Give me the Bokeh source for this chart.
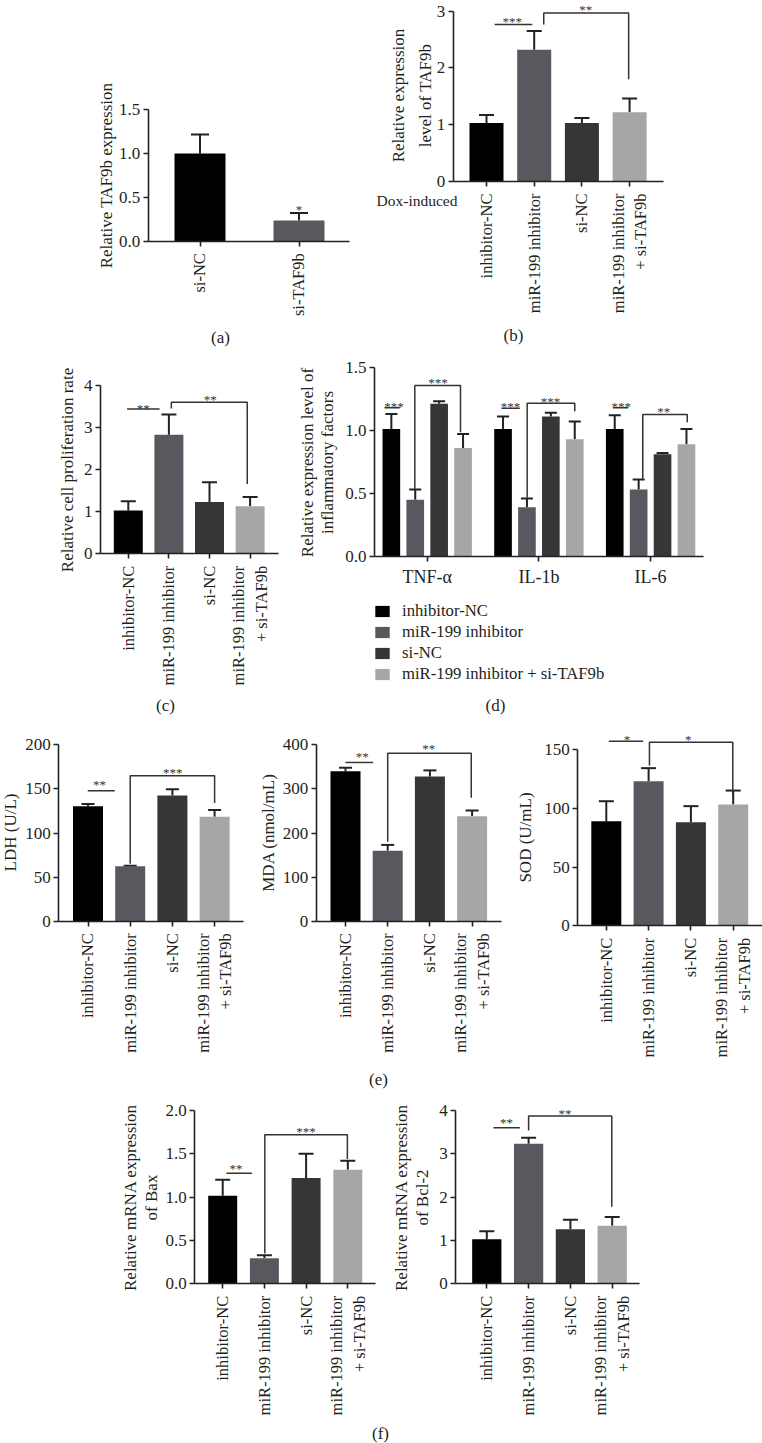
import math
from bokeh.plotting import figure
from bokeh.models import (Range1d, FixedTicker, Whisker, TeeHead, ColumnDataSource,
                          Label, Legend, LegendItem)
from bokeh.layouts import row, column
from bokeh.embed import file_html
from bokeh.resources import INLINE
from bokeh.core.properties import value

FONT = "Liberation Serif"
TXT = "#231f20"
LINE = "#222222"
COLORS = ["#000000", "#58585e", "#363636", "#a6a6a6"]

# ---------------- data ----------------
groups = ["inhibitor-NC", "miR-199 inhibitor", "si-NC", "miR-199 inhibitor\n+ si-TAF9b"]
legend_labels = ["inhibitor-NC", "miR-199 inhibitor", "si-NC", "miR-199 inhibitor + si-TAF9b"]

# (a)
a_cats = ["si-NC", "si-TAF9b"]
a_vals = [1.00, 0.236]
a_err = [1.215, 0.32]
a_yticks = [0, 0.5, 1.0, 1.5]
a_ylabels = ["0.0", "0.5", "1.0", "1.5"]
a_sig_lines = []
a_sig_texts = [(1.0, 0.365, "*")]

# (b)
b_vals = [1.03, 2.32, 1.03, 1.22]
b_err = [1.17, 2.65, 1.12, 1.46]
b_yticks = [0, 1, 2, 3]
b_ylabels = ["0", "1", "2", "3"]
b_sig_lines = [([0.17, 0.96], [2.765, 2.765]),
               ([1.2, 1.2, 2.98, 2.98], [2.765, 2.97, 2.97, 1.80])]
b_sig_texts = [(0.54, 2.82, "***"), (2.08, 3.03, "**")]

# (c)
c_vals = [1.03, 2.83, 1.23, 1.13]
c_err = [1.25, 3.31, 1.70, 1.35]
c_yticks = [0, 1, 2, 3, 4]
c_ylabels = ["0", "1", "2", "3", "4"]
c_sig_lines = [([-0.03, 0.77], [3.44, 3.44]),
               ([1.06, 1.06, 2.93, 2.93], [3.45, 3.6, 3.6, 1.66])]
c_sig_texts = [(0.37, 3.46, "**"), (2.02, 3.66, "**")]

# (d)
d_groups = ["TNF-α", "IL-1b", "IL-6"]
d_vals = [[1.01, 1.01, 1.01],
          [0.45, 0.39, 0.53],
          [1.21, 1.11, 0.81],
          [0.86, 0.93, 0.89]]
d_err = [[1.13, 1.11, 1.12],
         [0.53, 0.46, 0.61],
         [1.23, 1.14, 0.82],
         [0.97, 1.07, 1.01]]
d_yticks = [0, 0.5, 1.0, 1.5]
d_ylabels = ["0.0", "0.5", "1.0", "1.5"]
d_sig_lines = [([-0.382, -0.245], [1.178, 1.178]),
               ([-0.111, -0.111, 0.298, 0.298], [0.528, 1.355, 1.355, 0.985]),
               ([0.665, 0.829], [1.175, 1.175]),
               ([0.895, 0.895, 1.321, 1.321], [0.465, 1.215, 1.215, 1.151]),
               ([1.662, 1.80], [1.178, 1.178]),
               ([1.93, 1.93, 2.328, 2.328], [0.616, 1.125, 1.125, 1.064])]
d_sig_texts = [(-0.298, 1.187, "***"), (0.097, 1.379, "***"),
               (0.746, 1.187, "***"), (1.104, 1.228, "***"),
               (1.737, 1.187, "***"), (2.118, 1.149, "**")]

# (e) LDH / MDA / SOD
ldh_vals = [130.4, 62.4, 142.5, 118.4]
ldh_err = [133, 63, 149.7, 126]
ldh_yticks = [0, 50, 100, 150, 200]
ldh_sig_lines = [([-0.005, 0.635], [148, 148]),
                 ([1.0, 1.0, 3.0, 3.0], [65, 165, 165, 134])]
ldh_sig_texts = [(0.27, 154.6, "**"), (2.01, 168.6, "***")]

mda_vals = [340, 160, 328, 238]
mda_err = [348, 173, 342, 251]
mda_yticks = [0, 100, 200, 300, 400]
mda_sig_lines = [([0.0, 0.656], [360, 360]),
                 ([1.0, 1.0, 2.98, 2.98], [180, 381, 381, 280])]
mda_sig_texts = [(0.395, 373.5, "**"), (1.97, 392.3, "**")]

sod_vals = [89.2, 123.3, 88.3, 103.4]
sod_err = [106.2, 134.4, 102, 115.3]
sod_yticks = [0, 50, 100, 150]
sod_sig_lines = [([0.06, 0.87], [157.4, 157.4]),
                 ([1.02, 1.02, 2.99, 2.99], [136.7, 156.5, 156.5, 111.1])]
sod_sig_texts = [(0.49, 158.9, "*"), (1.94, 158.5, "*")]

# (f) Bax / Bcl-2
bax_vals = [1.015, 0.295, 1.22, 1.315]
bax_err = [1.20, 0.33, 1.50, 1.42]
bax_yticks = [0, 0.5, 1.0, 1.5, 2.0]
bax_ylabels = ["0.0", "0.5", "1.0", "1.5", "2.0"]
bax_sig_lines = [([0.09, 0.70], [1.275, 1.275]),
                 ([1.01, 1.01, 2.99, 2.99], [0.35, 1.72, 1.72, 1.44])]
bax_sig_texts = [(0.32, 1.333, "**"), (2.0, 1.754, "***")]

bcl_vals = [1.03, 3.23, 1.26, 1.34]
bcl_err = [1.21, 3.37, 1.48, 1.54]
bcl_yticks = [0, 1, 2, 3, 4]
bcl_sig_lines = [([0.16, 0.79], [3.6, 3.6]),
                 ([1.0, 1.0, 2.99, 2.99], [3.54, 3.87, 3.87, 1.78])]
bcl_sig_texts = [(0.47, 3.72, "**"), (1.87, 3.94, "**")]


# ---------------- helpers ----------------
class Geo:
    """Pixel geometry of one panel (page coordinates)."""
    def __init__(self, box, cx0, s, fx0, fx1, zero, k):
        self.box, self.cx0, self.s, self.fx0, self.fx1, self.zero, self.k = box, cx0, s, fx0, fx1, zero, k


def base_fig(g):
    X0, Y0, X1, Y1 = g.box
    p = figure(width=X1 - X0, height=Y1 - Y0, title=None,
               x_range=Range1d(-(g.cx0 - X0) / g.s, (X1 - g.cx0) / g.s),
               y_range=Range1d(-(Y1 - g.zero) / g.k, (g.zero - Y0) / g.k),
               output_backend="svg", toolbar_location=None,
               min_border_left=0, min_border_right=0, min_border_top=0, min_border_bottom=0)
    p.outline_line_color = None
    p.grid.visible = False
    p.background_fill_color = "white"
    p.border_fill_color = "white"
    return p


def style_axes(p, g, yticks, ylabels, xticks, xlabels, vertical=True, xfont="16.5px"):
    ya = p.yaxis[0]
    xa = p.xaxis[0]
    ya.ticker = FixedTicker(ticks=yticks)
    ya.major_label_overrides = {t: l for t, l in zip(yticks, ylabels)}
    ya.bounds = (0, yticks[-1])
    ya.fixed_location = (g.fx0 - g.cx0) / g.s
    xa.ticker = FixedTicker(ticks=xticks)
    xa.major_label_overrides = {t: l for t, l in zip(xticks, xlabels)}
    xa.bounds = ((g.fx0 - g.cx0) / g.s, (g.fx1 - g.cx0) / g.s)
    xa.fixed_location = 0
    if vertical:
        xa.major_label_orientation = math.pi / 2
    for ax in (ya, xa):
        ax.axis_line_color = LINE
        ax.axis_line_width = 1.6
        ax.major_tick_line_color = LINE
        ax.major_tick_line_width = 1.6
        ax.major_tick_in = 0
        ax.major_tick_out = 5
        ax.minor_tick_line_color = None
        ax.major_label_text_font = FONT
        ax.major_label_text_color = TXT
    ya.major_label_text_font_size = "17px"
    ya.major_label_standoff = 3
    xa.major_label_text_font_size = xfont
    xa.major_label_standoff = 7 if vertical else 5


def add_errors(p, xs, lows, highs, cap):
    src = ColumnDataSource(dict(x=xs, lower=lows, upper=highs))
    w = Whisker(base="x", lower="lower", upper="upper", source=src, dimension="height",
                line_color=LINE, line_width=2,
                upper_head=TeeHead(size=cap, line_color=LINE, line_width=2),
                lower_head=None)
    p.add_layout(w)


def add_sig(p, lines, texts):
    if lines:
        p.multi_line(xs=[l[0] for l in lines], ys=[l[1] for l in lines],
                     line_color="#333333", line_width=1.5)
    if texts:
        p.text(x=[t[0] for t in texts], y=[t[1] for t in texts], text=[t[2] for t in texts],
               text_font=value(FONT), text_font_size="13px", text_color="#333333",
               text_align="center", text_baseline="alphabetic")


def page_label(p, g, px, py, txt, align="center", angle=0.0, size="17px"):
    X0, Y0, X1, Y1 = g.box
    p.add_layout(Label(x=px - X0, y=Y1 - py, x_units="screen", y_units="screen", text=txt,
                       angle=angle, text_font=FONT, text_font_size=size, text_color=TXT,
                       text_align=align, text_baseline="middle"))


def ylab(p, g, lines):
    for (px, py, t) in lines:
        page_label(p, g, px, py, t, angle=math.pi / 2)


def four_bar(g, vals, errs, width, cap, yticks, ylabels, lines, texts):
    p = base_fig(g)
    xs = list(range(len(vals)))
    p.vbar(x=xs, top=vals, width=width, fill_color=COLORS, line_color=None)
    add_errors(p, xs, vals, errs, cap)
    add_sig(p, lines, texts)
    style_axes(p, g, yticks, ylabels, xs, groups)
    return p


# ---------------- row 1 ----------------
ga = Geo((0, 0, 370, 350), 199.5, 99, 147.7, 349, 240.7, 87.8)
pa = base_fig(ga)
xa_ = list(range(len(a_vals)))
pa.vbar(x=xa_, top=a_vals, width=0.515, fill_color=COLORS[:2], line_color=None)
add_errors(pa, xa_, a_vals, a_err, 18)
add_sig(pa, a_sig_lines, a_sig_texts)
style_axes(pa, ga, a_yticks, a_ylabels, xa_, a_cats)
ylab(pa, ga, [(106, 175, "Relative TAF9b expression")])
page_label(pa, ga, 220, 337, "(a)")

gb = Geo((370, 0, 762, 350), 486, 47.7, 452.7, 662.7, 181, 56.77)
pb = four_bar(gb, b_vals, b_err, 0.713, 15, b_yticks, b_ylabels, b_sig_lines, b_sig_texts)
ylab(pb, gb, [(397.5, 95, "Relative expression"), (425, 95, "level of TAF9b")])
page_label(pb, gb, 513, 335, "(b)")
page_label(pb, gb, 457, 200, "Dox-induced", align="right", size="15.5px")

# ---------------- row 2 ----------------
gc = Geo((0, 350, 290, 720), 127.8, 40.6, 100, 278.3, 553.3, 42.08)
pc = four_bar(gc, c_vals, c_err, 0.714, 15, c_yticks, c_ylabels, c_sig_lines, c_sig_texts)
ylab(pc, gc, [(66.7, 469.5, "Relative cell proliferation rate")])
page_label(pc, gc, 165, 705, "(c)")

gd = Geo((290, 350, 762, 720), 426.7, 111.7, 374, 702.7, 556, 126.2)
pd = base_fig(gd)
offsets = [-0.321, -0.107, 0.107, 0.321]
renderers = []
for j in range(4):
    xs = [gi + offsets[j] for gi in range(len(d_groups))]
    r = pd.vbar(x=xs, top=d_vals[j], width=0.158, fill_color=COLORS[j], line_color=None)
    renderers.append(r)
    add_errors(pd, xs, d_vals[j], d_err[j], 12)
add_sig(pd, d_sig_lines, d_sig_texts)
style_axes(pd, gd, d_yticks, d_ylabels, list(range(len(d_groups))), d_groups,
           vertical=False, xfont="18px")
ylab(pd, gd, [(307, 462, "Relative expression level of"), (327, 462, "inflammatory factors")])
legend = Legend(items=[LegendItem(label=legend_labels[j], renderers=[renderers[j]]) for j in range(4)],
                location=(83, 36), orientation="vertical",
                glyph_width=18, glyph_height=14, label_height=14, spacing=1,
                padding=0, margin=0, border_line_color=None, background_fill_alpha=0,
                label_text_font=FONT, label_text_font_size="16.7px", label_text_color=TXT,
                label_standoff=11)
pd.add_layout(legend)
page_label(pd, gd, 495, 705, "(d)")

# ---------------- row 3 ----------------
gl = Geo((0, 720, 252, 1100), 87.5, 42.2, 58.3, 243.3, 920.7, 0.882)
pldh = four_bar(gl, ldh_vals, ldh_err, 0.711, 13, ldh_yticks, [str(t) for t in ldh_yticks],
                ldh_sig_lines, ldh_sig_texts)
ylab(pldh, gl, [(10, 832, "LDH (U/L)")])

gm = Geo((252, 720, 505, 1100), 345, 42.2, 315.7, 500.7, 920.7, 0.441)
pmda = four_bar(gm, mda_vals, mda_err, 0.711, 13, mda_yticks, [str(t) for t in mda_yticks],
                mda_sig_lines, mda_sig_texts)
ylab(pmda, gm, [(268, 832, "MDA (nmol/mL)")])
page_label(pmda, gm, 378, 1079, "(e)")

gs = Geo((505, 720, 762, 1100), 605.8, 42.3, 577.3, 761.5, 925.3, 1.173)
psod = four_bar(gs, sod_vals, sod_err, 0.709, 15, sod_yticks, [str(t) for t in sod_yticks],
                sod_sig_lines, sod_sig_texts)
ylab(psod, gs, [(525, 837, "SOD (U/mL)")])

# ---------------- row 4 ----------------
gx = Geo((0, 1100, 389, 1443), 222.2, 41.7, 194.3, 375, 1283.3, 86.7)
pbax = four_bar(gx, bax_vals, bax_err, 0.695, 15, bax_yticks, bax_ylabels,
                bax_sig_lines, bax_sig_texts)
ylab(pbax, gx, [(130, 1197, "Relative mRNA expression"), (151, 1197, "of Bax")])
page_label(pbax, gx, 380, 1433, "(f)")

gy = Geo((389, 1100, 762, 1443), 486.3, 41.8, 455.3, 639.3, 1283.3, 43.33)
pbcl = four_bar(gy, bcl_vals, bcl_err, 0.70, 15, bcl_yticks, [str(t) for t in bcl_yticks],
                bcl_sig_lines, bcl_sig_texts)
ylab(pbcl, gy, [(401, 1197, "Relative mRNA expression"), (422, 1197, "of Bcl-2")])

layout = column(row(pa, pb), row(pc, pd), row(pldh, pmda, psod), row(pbax, pbcl))

open("out.html", "w").write(file_html(layout, INLINE))
